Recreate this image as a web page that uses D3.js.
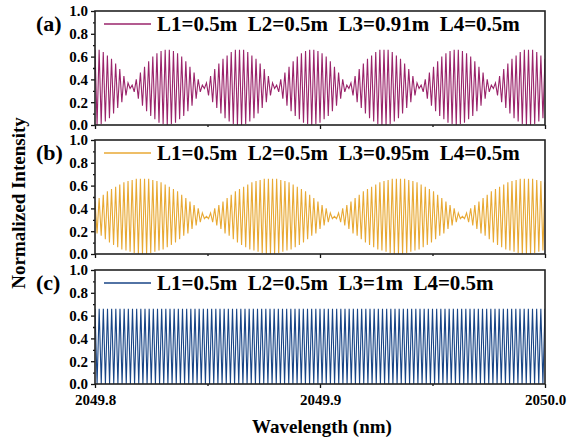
<!DOCTYPE html>
<html>
<head>
<meta charset="utf-8">
<script src="https://cdn.jsdelivr.net/npm/d3@7"></script>
<style>
body { margin: 0; background: #fff; }
svg text { font-family: "Liberation Serif", "Times New Roman", serif; font-weight: bold; fill: #000; }
</style>
</head>
<body>
<svg></svg>
<script>
// ---- data ----
let wavelengthDomain = [2049.8, 2050.0];
let xTickValues = [2049.8, 2049.9, 2050.0];
let xMinorTicks = [2049.85, 2049.95];
let yTickValues = [0, 0.2, 0.4, 0.6, 0.8, 1.0];
let yMinorTicks = [0.1, 0.3, 0.5, 0.7, 0.9];
let panelLabels = ["(a)", "(b)", "(c)"];
let legendLabels = [
  "L1=0.5m  L2=0.5m  L3=0.91m  L4=0.5m",
  "L1=0.5m  L2=0.5m  L3=0.95m  L4=0.5m",
  "L1=0.5m  L2=0.5m  L3=1m  L4=0.5m"
];

// fringe peaks / valleys, alternating, evenly spaced in wavelength
let intensityA = [
  0.66,0.00,0.66,0.01,0.64,0.03,0.61,0.06,0.58,0.10,0.54,0.15,0.49,0.20,0.43,0.26,0.37,0.32,0.35,0.29,
  0.40,0.23,0.46,0.17,0.51,0.12,0.56,0.08,0.60,0.05,0.63,0.02,0.65,0.01,0.66,
  0.00,0.66,0.01,0.65,0.02,0.63,0.05,0.60,0.08,0.56,0.12,0.51,0.17,0.46,0.23,0.40,0.29,0.35,0.32,0.37,
  0.26,0.43,0.20,0.49,0.15,0.54,0.10,0.58,0.06,0.61,0.03,0.64,0.01,0.66,0.00,
  0.66,0.00,0.66,0.01,0.64,0.03,0.61,0.06,0.58,0.10,0.54,0.15,0.49,0.20,0.43,0.26,0.37,0.32,0.35,0.29,
  0.40,0.23,0.46,0.17,0.51,0.12,0.56,0.08,0.60,0.05,0.63,0.02,0.65,0.01,0.66,
  0.00,0.66,0.01,0.65,0.02,0.63,0.05,0.60,0.08,0.56,0.12,0.51,0.17,0.46,0.23,0.40,0.29,0.35,0.32,0.37,
  0.26,0.43,0.20,0.49,0.15,0.54,0.10,0.58,0.06,0.61,0.03,0.64,0.01,0.66,0.00,
  0.66,0.00,0.66,0.01,0.64,0.03,0.61,0.06,0.58,0.10,0.54,0.15,0.49,0.20,0.43,0.26,0.37,0.32,0.35,0.29,
  0.40,0.23,0.46,0.17,0.51,0.12,0.56,0.08,0.60,0.05,0.63,0.02,0.65,0.01,0.66,
  0.00,0.66,0.01,0.65,0.02,0.63,0.05,0.60,0.08,0.56,0.12,0.51,0.17,0.46,0.23,0.40,0.29,0.35,0.32,0.37,
  0.26,0.43,0.20,0.49,0.15,0.54,0.10,0.58,0.06,0.61,0.03,0.64,0.01,0.66,0.00,
  0.66,0.00,0.66,0.01,0.64,0.03,0.61,0.06,0.58
];
let intensityB = [
  0.46,0.18,0.49,0.16,0.52,0.13,0.55,0.10,0.57,0.08,0.59,0.06,0.61,0.04,0.63,0.03,0.64,0.02,0.65,0.01,
  0.66,0.00,0.66,0.00,0.66,0.00,0.66,0.01,0.65,0.02,0.64,0.03,0.63,0.04,0.61,0.06,0.59,0.08,0.57,0.10,
  0.55,0.13,0.52,0.16,0.49,0.18,0.46,0.22,0.43,0.25,0.40,0.28,0.36,0.31,0.33,0.31,0.36,0.28,0.40,0.25,
  0.43,0.22,
  0.46,0.18,0.49,0.16,0.52,0.13,0.55,0.10,0.57,0.08,0.59,0.06,0.61,0.04,0.63,0.03,0.64,0.02,0.65,0.01,
  0.66,0.00,0.66,0.00,0.66,0.00,0.66,0.01,0.65,0.02,0.64,0.03,0.63,0.04,0.61,0.06,0.59,0.08,0.57,0.10,
  0.55,0.13,0.52,0.16,0.49,0.18,0.46,0.22,0.43,0.25,0.40,0.28,0.36,0.31,0.33,0.31,0.36,0.28,0.40,0.25,
  0.43,0.22,
  0.46,0.18,0.49,0.16,0.52,0.13,0.55,0.10,0.57,0.08,0.59,0.06,0.61,0.04,0.63,0.03,0.64,0.02,0.65,0.01,
  0.66,0.00,0.66,0.00,0.66,0.00,0.66,0.01,0.65,0.02,0.64,0.03,0.63,0.04,0.61,0.06,0.59,0.08,0.57,0.10,
  0.55,0.13,0.52,0.16,0.49,0.18,0.46,0.22,0.43,0.25,0.40,0.28,0.36,0.31,0.33,0.31,0.36,0.28,0.40,0.25,
  0.43,0.22,
  0.46,0.18,0.49,0.16,0.52,0.13,0.55,0.10,0.57,0.08,0.59,0.06,0.61,0.04,0.63,0.03,0.64,0.02,0.65,0.01,
  0.66,0.00,0.66,0.00,0.66,0.00,0.66,0.01,0.65,0.02,0.64,0.03,0.63
];
let intensityC = [
  0.66,0,0.66,0,0.66,0,0.66,0,0.66,0,0.66,0,0.66,0,0.66,0,0.66,0,0.66,0,
  0.66,0,0.66,0,0.66,0,0.66,0,0.66,0,0.66,0,0.66,0,0.66,0,0.66,0,0.66,0,
  0.66,0,0.66,0,0.66,0,0.66,0,0.66,0,0.66,0,0.66,0,0.66,0,0.66,0,0.66,0,
  0.66,0,0.66,0,0.66,0,0.66,0,0.66,0,0.66,0,0.66,0,0.66,0,0.66,0,0.66,0,
  0.66,0,0.66,0,0.66,0,0.66,0,0.66,0,0.66,0,0.66,0,0.66,0,0.66,0,0.66,0,
  0.66,0,0.66,0,0.66,0,0.66,0,0.66,0,0.66,0,0.66,0,0.66,0,0.66,0,0.66,0,
  0.66,0,0.66,0,0.66,0,0.66,0,0.66,0,0.66,0,0.66,0,0.66,0,0.66,0,0.66,0,
  0.66,0,0.66,0,0.66,0,0.66,0,0.66,0,0.66,0,0.66,0,0.66,0,0.66,0,0.66,0,
  0.66,0,0.66,0,0.66,0,0.66,0,0.66,0,0.66,0,0.66,0,0.66,0,0.66,0,0.66,0,
  0.66,0,0.66,0,0.66,0,0.66,0,0.66,0,0.66,0,0.66,0,0.66,0,0.66,0,0.66,0,
  0.66,0,0.66,0,0.66,0,0.66,0,0.66,0,0.66,0,0.66,0,0.66,0,0.66
];
let panelSeries = [intensityA, intensityB, intensityC];
let seriesColors = ["#9a246b", "#e8a934", "#184586"];

// ---- layout ----
let width = 569, height = 441;
let left = 95, right = 545;
let panelTops = [11, 140, 270];
let panelH = 114;

let svg = d3.select("svg")
  .attr("width", width)
  .attr("height", height);

let x = d3.scaleLinear()
  .domain(wavelengthDomain)
  .range([left, right]);

let y = d3.scaleLinear()
  .domain([0, 1])
  .range([panelH, 0]);

svg.append("clipPath").attr("id", "plotclip")
  .append("rect")
  .attr("x", left).attr("y", 0)
  .attr("width", right - left).attr("height", panelH);

panelSeries.forEach(function(series, i) {
  let g = svg.append("g").attr("transform", "translate(0," + panelTops[i] + ")");
  let last = i == panelSeries.length - 1;

  //position along wavelength for each sample
  let idx = d3.scaleLinear().domain([0, series.length - 1]).range(wavelengthDomain);
  let line = d3.line()
    .x(function(d, k) { return x(idx(k)); })
    .y(function(d) { return y(d); });

  g.append("path")
    .datum(series)
    .attr("clip-path", "url(#plotclip)")
    .attr("fill", "none")
    .attr("stroke", seriesColors[i])
    .attr("stroke-width", 1.1)
    .attr("d", line);

  // y axis, major + minor
  let yAxis = g.append("g")
    .attr("transform", "translate(" + left + ",0)")
    .call(d3.axisLeft(y).tickValues(yTickValues).tickFormat(d3.format(".1f")).tickSize(4).tickPadding(3));
  yAxis.selectAll("text").style("font-size", "15px");
  g.append("g")
    .attr("transform", "translate(" + left + ",0)")
    .call(d3.axisLeft(y).tickValues(yMinorTicks).tickFormat("").tickSize(2));

  // x axis
  let xAxis = g.append("g")
    .attr("transform", "translate(0," + panelH + ")")
    .call(d3.axisBottom(x).tickValues(xTickValues)
      .tickFormat(last ? d3.format(".1f") : "").tickSize(4).tickPadding(6));
  xAxis.selectAll("text").style("font-size", "15px");
  g.append("g")
    .attr("transform", "translate(0," + panelH + ")")
    .call(d3.axisBottom(x).tickValues(xMinorTicks).tickFormat("").tickSize(2));

  g.selectAll(".domain").remove();
  g.selectAll(".tick line").attr("stroke", "#111").attr("stroke-width", 1.3);

  // frame
  g.append("rect")
    .attr("x", left).attr("y", 0)
    .attr("width", right - left).attr("height", panelH)
    .attr("fill", "none")
    .attr("stroke", "#222")
    .attr("stroke-width", 1.6);

  // panel label
  g.append("text")
    .attr("x", 36).attr("y", 20)
    .style("font-size", "22px")
    .text(panelLabels[i]);

  // legend
  g.append("line")
    .attr("x1", 104).attr("x2", 151)
    .attr("y1", 13).attr("y2", 13)
    .attr("stroke", seriesColors[i])
    .attr("stroke-width", 1.3);
  g.append("text")
    .attr("x", 157).attr("y", 20)
    .style("font-size", "21px")
    .style("white-space", "pre")
    .text(legendLabels[i]);
});

// axis titles
svg.append("text")
  .attr("transform", "translate(25,203) rotate(-90)")
  .attr("text-anchor", "middle")
  .style("font-size", "19px")
  .text("Normalized Intensity");

svg.append("text")
  .attr("x", 322).attr("y", 433)
  .attr("text-anchor", "middle")
  .style("font-size", "19px")
  .text("Wavelength (nm)");
</script>
</body>
</html>
